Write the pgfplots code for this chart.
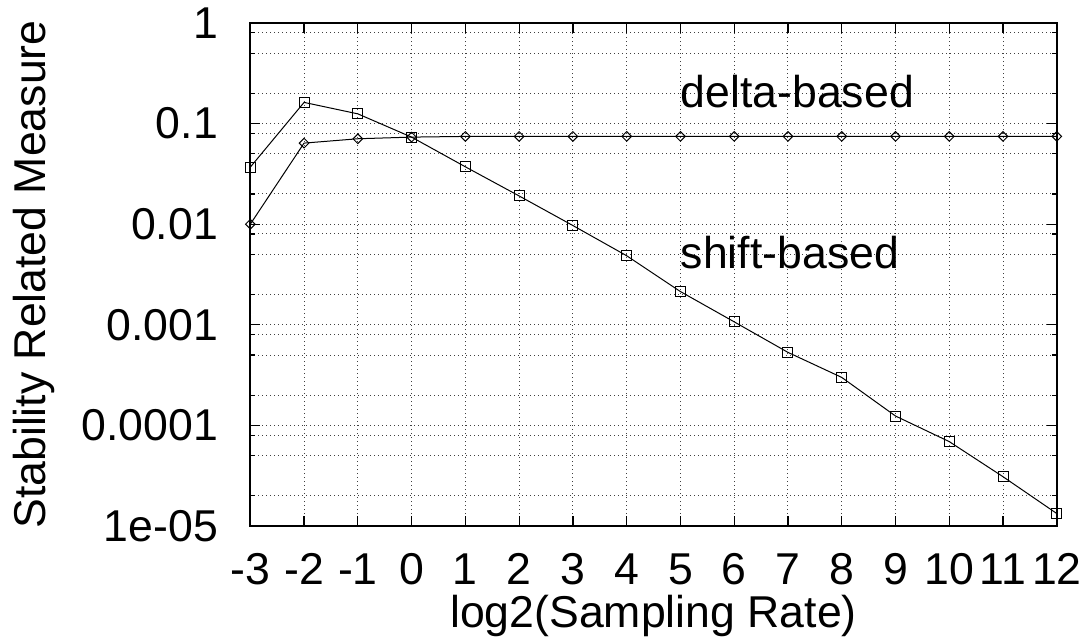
\documentclass[border=0pt]{standalone}
\usepackage{fontspec}
\setmainfont{Liberation Sans}
\usepackage{pgfplots}
\pgfplotsset{compat=1.18}

\newcommand{\plotfont}{\fontsize{22.3}{26}\selectfont}

\begin{document}
\begin{tikzpicture}
  \begin{axis}[
      at={(125.15pt,58.5pt)}, anchor=south west,
      scale only axis,
      width=403.25pt, height=251.5pt,
      xmin=-3, xmax=12,
      ymode=log, ymin=1e-5, ymax=1,
      xtick={-3,...,12},
      ytick={1e-5,1e-4,1e-3,1e-2,1e-1,1},
      yticklabels={1e-05,0.0001,0.001,0.01,0.1,1},
      minor ytick={2e-5,5e-5,8e-5,2e-4,5e-4,8e-4,2e-3,5e-3,8e-3,2e-2,5e-2,8e-2,2e-1,5e-1,8e-1},
      tick align=inside,
      major tick length=5pt, minor tick length=2.5pt,
      tick style={black, line width=0.6pt},
      axis line style={line width=1pt},
      grid=both,
      major grid style={black!75, line width=0.5pt, dash pattern=on 0.5pt off 1.5pt},
      minor grid style={black!75, line width=0.5pt, dash pattern=on 0.5pt off 1.5pt},
      /pgf/number format/assume math mode=true,
      tick label style={font=\plotfont, inner sep=0pt},
      xticklabel style={anchor=north, yshift=-13.5pt},
      yticklabel style={anchor=east, xshift=-16pt},
      xlabel={log2(Sampling Rate)},
      ylabel={Stability Related Measure},
      every axis x label/.style={at={(axis description cs:0.5,-0.2008)}, anchor=base, font=\plotfont, inner sep=0pt},
      every axis y label/.style={at={(axis description cs:-0.254,0.5)}, rotate=90, anchor=base, font=\plotfont, inner sep=0pt},
      clip=false,
    ]

    % shift-based
    \addplot[black, line width=0.5pt, mark=square, mark size=2.5pt, mark options={solid, line width=0.5pt}]
    coordinates {
      (-3,0.0369) (-2,0.1625) (-1,0.125) (0,0.0734) (1,0.0372) (2,0.0191)
      (3,0.0097) (4,0.00486) (5,0.00214) (6,0.00107) (7,0.000532)
      (8,0.0003) (9,0.000124) (10,0.000069) (11,0.0000309) (12,0.0000133)
    };

    % delta-based
    \addplot[black, line width=0.5pt, mark=diamond, mark size=2.4pt, mark options={solid, line width=0.5pt, xscale=1.33}]
    coordinates {
      (-3,0.01) (-2,0.064) (-1,0.0707) (0,0.0734) (1,0.0746) (2,0.0746)
      (3,0.0746) (4,0.0746) (5,0.0746) (6,0.0746) (7,0.0746)
      (8,0.0746) (9,0.0746) (10,0.0746) (11,0.0746) (12,0.0746)
    };

    \node[anchor=base west, inner sep=0pt, font=\plotfont] at (axis cs:5,0.144) {delta-based};
    \node[anchor=base west, inner sep=0pt, font=\plotfont] at (axis cs:5,0.00362) {shift-based};
  \end{axis}
  \pgfresetboundingbox
  \useasboundingbox (0,0) rectangle (543pt,321.5pt);
\end{tikzpicture}
\end{document}
